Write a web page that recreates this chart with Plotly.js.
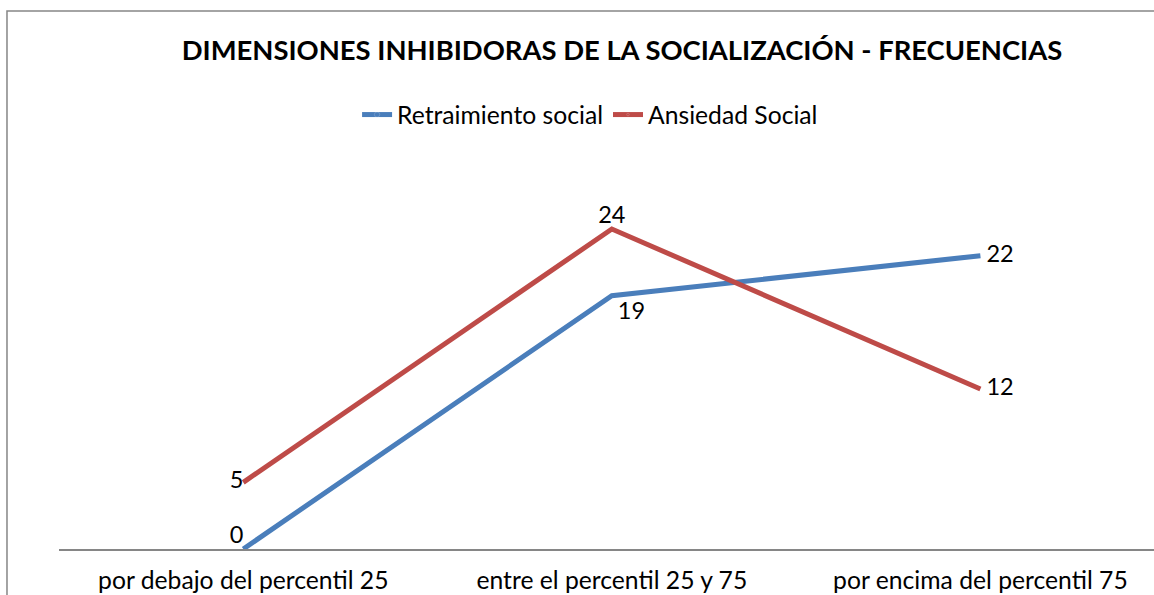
<!DOCTYPE html>
<html>
<head>
<meta charset="utf-8">
<script src="https://cdn.plot.ly/plotly-3.0.1.min.js"></script>
<style>html,body{margin:0;padding:0;background:#fff;}#chart{width:1154px;height:595px;}</style>
</head>
<body>
<div id="chart"></div>
<script>
var categories = ["por debajo del percentil 25", "entre el percentil 25 y 75", "por encima del percentil 75"];
var retraimiento = [0, 19, 22];
var ansiedad = [5, 24, 12];
var seriesNames = ["Retraimiento social", "Ansiedad Social"];
var titleText = "DIMENSIONES INHIBIDORAS DE LA SOCIALIZACIÓN - FRECUENCIAS";

var FONT = "Lato, 'Open Sans', sans-serif";

var traces = [
  {
    x: categories, y: retraimiento, name: seriesNames[0],
    type: "scatter", mode: "lines+markers+text",
    line: {color: "#4A7EBB", width: 5},
    text: retraimiento.map(String),
    textposition: ["top left", "bottom right", "middle right"],
    textfont: {family: FONT, size: 23.5, color: "#000"},
    marker: {size: [0, 8, 8], opacity: 0, color: "#4A7EBB"},
    cliponaxis: false, hoverinfo: "none"
  },
  {
    x: categories, y: ansiedad, name: seriesNames[1],
    type: "scatter", mode: "lines+markers+text",
    line: {color: "#BE4B48", width: 5},
    text: ansiedad.map(String),
    textposition: ["middle left", "top center", "middle right"],
    textfont: {family: FONT, size: 23.5, color: "#000"},
    marker: {size: [0, 0, 8], opacity: 0, color: "#BE4B48"},
    cliponaxis: false, hoverinfo: "none"
  }
];

var layout = {
  width: 1154, height: 595,
  margin: {l: 59, r: 0, t: 149, b: 46},
  paper_bgcolor: "#fff", plot_bgcolor: "#fff",
  font: {family: FONT, size: 24.7, color: "#000"},
  title: {
    text: "<b>" + titleText + "</b>",
    font: {family: FONT, size: 27.4, color: "#000"},
    xref: "container", x: 0.539, xanchor: "center",
    yref: "container", y: 0.916, yanchor: "middle"
  },
  showlegend: true,
  legend: {
    orientation: "h", xref: "paper", x: 0.485, xanchor: "center",
    yref: "paper", y: 1.085, yanchor: "middle",
    font: {family: FONT, size: 24.7, color: "#000"},
    bgcolor: "rgba(0,0,0,0)", itemwidth: 30, tracegroupgap: 0
  },
  xaxis: {
    type: "category", range: [-0.5, 2.471],
    showline: true, linecolor: "#868686", linewidth: 1.5,
    showgrid: false, zeroline: false, ticks: "",
    ticklabelstandoff: 9,
    tickfont: {family: FONT, size: 24.7, color: "#000"},
    fixedrange: true
  },
  yaxis: {
    range: [0, 30], visible: false, showgrid: false, zeroline: false, fixedrange: true
  },
  shapes: [
    {type: "rect", xref: "paper", yref: "paper",
     x0: -0.0475, x1: 1.05, y0: -0.3, y1: 1.345,
     line: {color: "#868686", width: 1.5}, fillcolor: "rgba(0,0,0,0)", layer: "below"}
  ]
};

Plotly.newPlot("chart", traces, layout, {staticPlot: true, displayModeBar: false});
</script>
</body>
</html>
